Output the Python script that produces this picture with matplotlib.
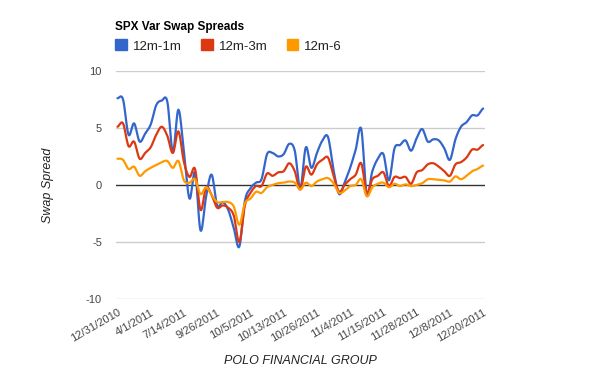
import numpy as np
import matplotlib.pyplot as plt

# ---------------------------
# Data
# ---------------------------
date_labels = ["12/31/2010", "4/1/2011", "7/14/2011", "9/26/2011", "10/5/2011",
               "10/13/2011", "10/26/2011", "11/4/2011", "11/15/2011",
               "11/28/2011", "12/8/2011", "12/20/2011"]
points_per_label = 6

spread_12m_1m = [7.6, 7.5, 4.4, 5.4, 3.8, 4.5, 5.3, 7.0, 7.4, 7.3, 2.9, 6.6,
                 2.9, -1.2, 1.1, -4.0, -1.0, 0.9, -1.8, -1.5, -2.2, -3.8, -5.4, -1.4,
                 -0.3, 0.2, 0.5, 2.7, 2.8, 2.5, 2.7, 3.6, 3.0, -0.3, 3.3, 1.5,
                 2.8, 3.9, 4.2, 1.3, -0.8, 0.2, 1.5, 3.1, 4.9, -0.8, 1.2, 2.3,
                 2.7, 0.4, 3.2, 3.5, 3.9, 3.0, 4.1, 4.9, 3.8, 4.0, 3.9, 3.2,
                 2.2, 4.0, 5.1, 5.5, 6.1, 6.1, 6.7]
spread_12m_3m = [5.1, 5.4, 3.4, 3.8, 2.3, 2.8, 3.3, 4.4, 5.1, 4.3, 2.8, 4.7,
                 2.0, 0.7, 1.4, -2.2, -0.2, -0.9, -2.0, -1.8, -2.0, -2.7, -5.0, -1.8,
                 -0.7, -0.1, -0.1, 1.0, 0.8, 1.1, 1.2, 1.9, 1.2, -0.4, 1.6, 0.9,
                 1.8, 2.2, 2.4, 0.8, -0.6, 0.0, 0.5, 0.9, 1.9, -0.7, 0.5, 0.8,
                 1.1, -0.1, 0.7, 0.6, 0.7, 0.1, 1.1, 1.3, 1.8, 1.9, 1.6, 1.2,
                 0.8, 1.8, 2.0, 2.4, 3.1, 3.1, 3.5]
spread_12m_6 = [2.3, 2.2, 1.4, 1.6, 0.8, 1.2, 1.5, 1.75, 2.0, 2.1, 1.5, 2.1,
                0.4, 0.2, 0.5, -0.8, -0.2, -0.9, -1.5, -1.5, -1.5, -1.9, -3.5, -1.6,
                -1.2, -0.6, -0.7, -0.2, 0.0, 0.15, 0.2, 0.3, 0.2, -0.4, 0.2, -0.1,
                0.3, 0.5, 0.6, 0.15, -0.7, -0.5, -0.1, 0.0, 0.5, -1.0, -0.2, 0.1,
                0.2, -0.2, 0.1, -0.1, 0.05, -0.1, 0.0, 0.15, 0.5, 0.5, 0.45, 0.4,
                0.3, 0.75, 0.5, 0.8, 1.2, 1.4, 1.7]

series = [("12m-1m", spread_12m_1m, "#3366cc"),
          ("12m-3m", spread_12m_3m, "#dc3912"),
          ("12m-6", spread_12m_6, "#ff9900")]


# ---------------------------
# Smooth curve (Catmull-Rom style, like the original's curved lines)
# ---------------------------
def smooth(y, steps=10):
    y = np.asarray(y, dtype=float)
    n = len(y)
    ext = np.concatenate([[y[0]], y, [y[-1]]])
    xs, ys = [], []
    t = np.linspace(0, 1, steps, endpoint=False)
    for i in range(n - 1):
        p0, p1, p2, p3 = ext[i], ext[i + 1], ext[i + 2], ext[i + 3]
        m1 = (p2 - p0) / 2
        m2 = (p3 - p1) / 2
        h00 = 2 * t**3 - 3 * t**2 + 1
        h10 = t**3 - 2 * t**2 + t
        h01 = -2 * t**3 + 3 * t**2
        h11 = t**3 - t**2
        xs.append(i + t)
        ys.append(h00 * p1 + h10 * m1 + h01 * p2 + h11 * m2)
    xs.append([n - 1])
    ys.append([y[-1]])
    return np.concatenate(xs), np.concatenate(ys)


plt.rcParams["font.family"] = ["Liberation Sans", "DejaVu Sans"]

fig = plt.figure(figsize=(6, 3.71), dpi=100)
ax = fig.add_axes([0.193, 0.194, 0.615, 0.615])

for name, vals, color in series:
    sx, sy = smooth(vals)
    ax.plot(sx, sy, color=color, lw=1.6, solid_capstyle="round", label=name)

n = len(spread_12m_1m)
ax.set_xlim(-0.3, n - 1 + 0.3)
ax.set_ylim(-10, 10)

# gridlines
for v in [-10, -5, 5, 10]:
    ax.axhline(v, color="#cccccc", lw=1, zorder=0)
ax.axhline(0, color="#333333", lw=1, zorder=0.5)

ax.set_yticks([-10, -5, 0, 5, 10])
ax.set_yticklabels(["-10", "-5", "0", "5", "10"], fontsize=8, color="#444444")
tick_pos = np.arange(len(date_labels)) * points_per_label
ax.set_xticks(tick_pos)
ax.set_xticklabels(date_labels, rotation=30, ha="right", rotation_mode="anchor",
                   fontsize=8, color="#444444")
ax.tick_params(length=0, axis="y", pad=10)
ax.tick_params(length=0, axis="x", pad=6)
for s in ax.spines.values():
    s.set_visible(False)

ax.set_ylabel("Swap Spread", fontsize=9, style="italic", color="#222222", labelpad=23)
ax.set_xlabel("POLO FINANCIAL GROUP", fontsize=9, style="italic", color="#222222",
              labelpad=8)

# title and legend at the top
fig.text(115 / 600, 1 - 27 / 371, "SPX Var Swap Spreads", fontsize=8.5,
         fontweight="bold", va="center", ha="left")
leg = fig.legend(handles=[plt.Rectangle((0, 0), 1, 1, color=c) for _, _, c in series],
                 labels=[nm for nm, _, _ in series], loc="center left",
                 bbox_to_anchor=(115 / 600, 1 - 46 / 371), ncol=3, frameon=False,
                 fontsize=9.5, handlelength=0.9, handleheight=0.9,
                 handletextpad=0.45, columnspacing=1.45,
                 borderpad=0, borderaxespad=0)
for txt in leg.get_texts():
    txt.set_color("#222222")

fig.savefig("out.png", dpi=100)
